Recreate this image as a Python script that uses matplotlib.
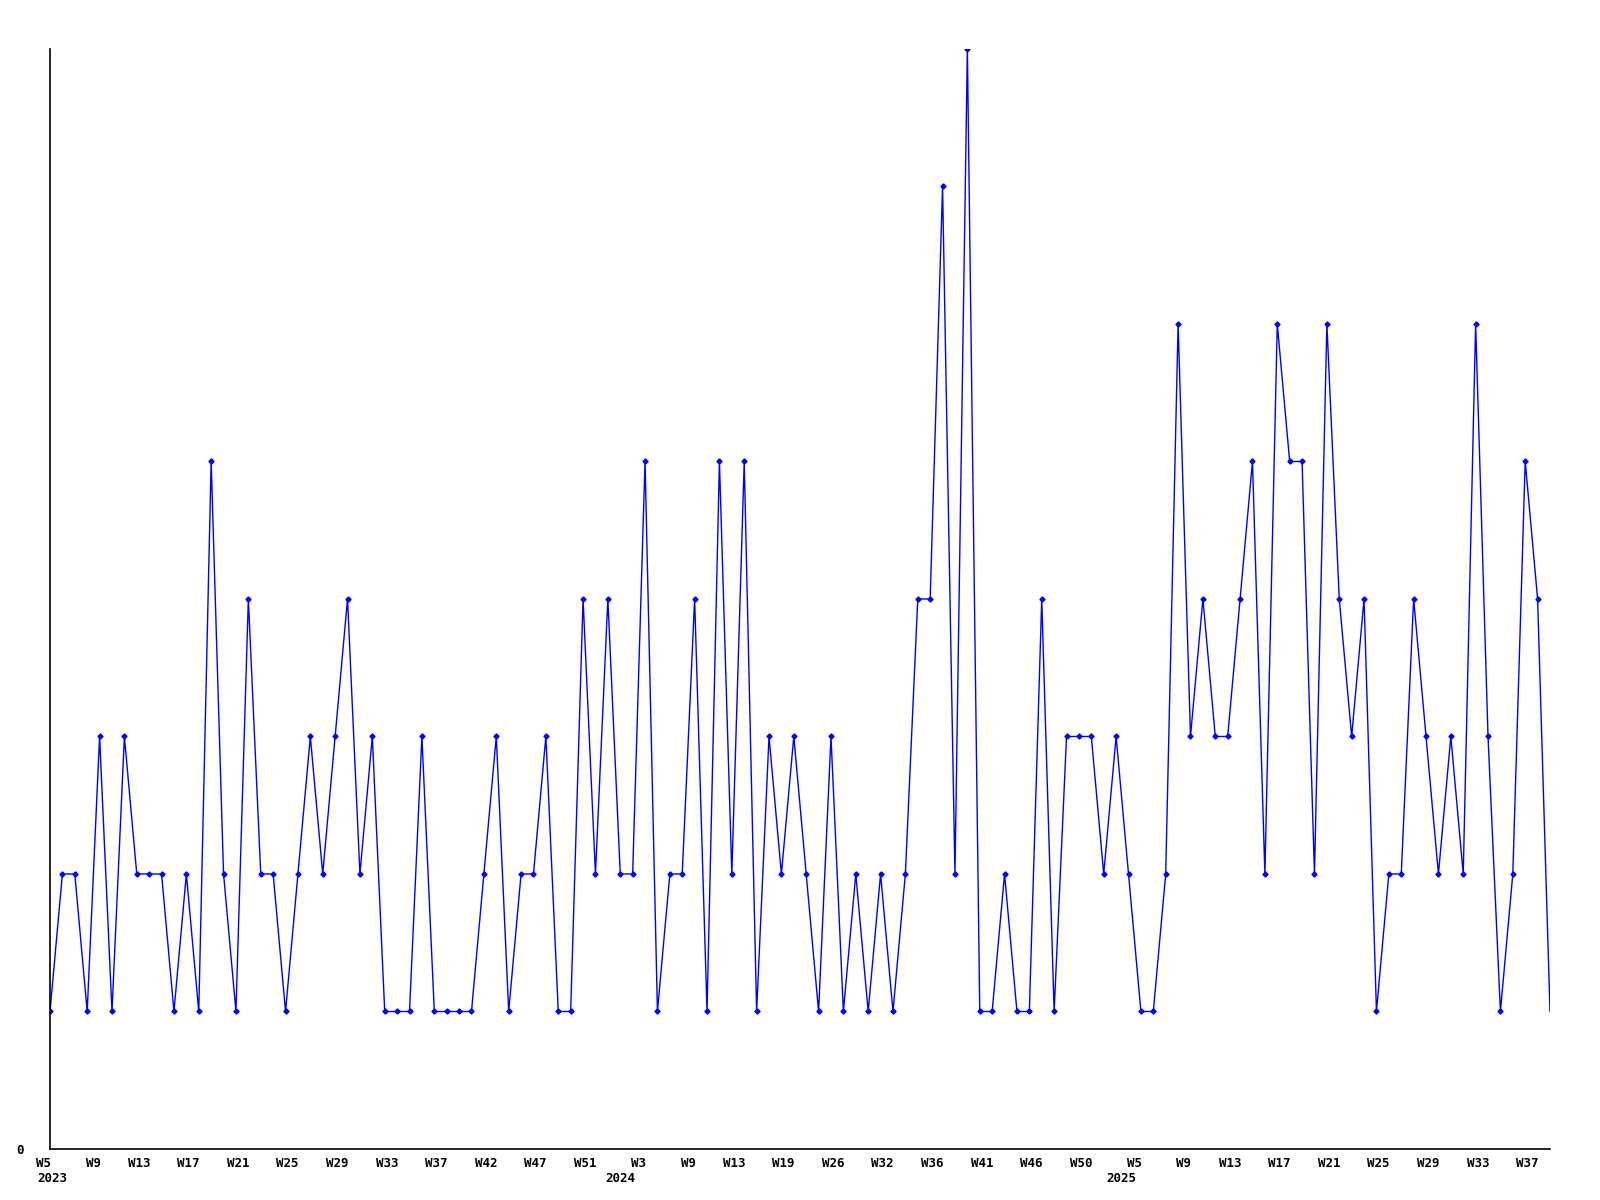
import numpy as np
import matplotlib.pyplot as plt
import matplotlib.transforms as mtrans

# weekly counts, one point per week that has data
valores = [1, 2, 2, 1, 3, 1, 3, 2, 2, 2, 1, 2, 1, 5, 2, 1, 4, 2, 2, 1,
           2, 3, 2, 3, 4, 2, 3, 1, 1, 1, 3, 1, 1, 1, 1, 2, 3, 1, 2, 2,
           3, 1, 1, 4, 2, 4, 2, 2, 5, 1, 2, 2, 4, 1, 5, 2, 5, 1, 3, 2,
           3, 2, 1, 3, 1, 2, 1, 2, 1, 2, 4, 4, 7, 2, 8, 1, 1, 2, 1, 1,
           4, 1, 3, 3, 3, 2, 3, 2, 1, 1, 2, 6, 3, 4, 3, 3, 4, 5, 2, 6,
           5, 5, 2, 6, 4, 3, 4, 1, 2, 2, 4, 3, 2, 3, 2, 6, 3, 1, 2, 5,
           4, 1]

# labels shown every 4th point
semanas = ["W5", "W9", "W13", "W17", "W21", "W25", "W29", "W33", "W37", "W42",
           "W47", "W51", "W3", "W9", "W13", "W19", "W26", "W32", "W36", "W41",
           "W46", "W50", "W5", "W9", "W13", "W17", "W21", "W25", "W29", "W33",
           "W37"]
anios = ["2023", "2024", "2025"]
anios_pos = [-1.0, 44.8, 85.2]

x = np.arange(len(valores))

fig = plt.figure(figsize=(16, 12), dpi=100)
ax = fig.add_axes([0.03125, 0.0425, 0.9375, 0.9167])

ax.plot(x, valores, '-', color='#0000ff', linewidth=1.0)
# el ultimo punto no lleva marcador
ax.plot(x[:-1], valores[:-1], 'D', color='#0000ff', markersize=2.6)

ax.set_xlim(0, len(valores) - 1)
ax.set_ylim(0, 8)

ax.spines['right'].set_visible(False)
ax.spines['top'].set_visible(False)
ax.spines['left'].set_linewidth(1.2)
ax.spines['bottom'].set_linewidth(1.2)

fuente = dict(family='DejaVu Sans Mono', weight='bold', size=9)

ax.set_yticks([0])
ax.set_yticklabels(['0'], **fuente)
ax.tick_params(axis='y', length=0, pad=19)

ax.set_xticks(x[::4])
ax.set_xticklabels(semanas, ha='right', **fuente)
ax.tick_params(axis='x', length=0, pad=6)
off = mtrans.ScaledTranslation(1 / 100, 0, fig.dpi_scale_trans)
for lbl in ax.get_xticklabels():
    lbl.set_transform(lbl.get_transform() + off)

for anio, pos in zip(anios, anios_pos):
    ax.text(pos, -0.165, anio, ha='left', va='top', **fuente)

fig.savefig('out.png', dpi=100)
